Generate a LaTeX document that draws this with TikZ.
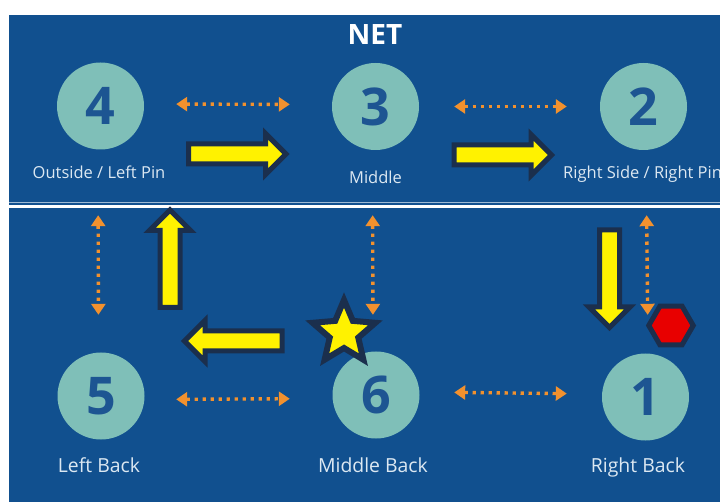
\documentclass[tikz,border=0pt]{standalone}
\usepackage{fontspec}
\setmainfont{Open Sans}
\usetikzlibrary{shapes.geometric,shapes.arrows}
\usetikzlibrary{arrows.meta}

\definecolor{court}{HTML}{11508F}
\definecolor{spotcol}{HTML}{7FBFB8}
\definecolor{navy}{HTML}{1B2F4D}
\definecolor{numcol}{HTML}{1D5592}
\definecolor{lblcol}{HTML}{DCE8F2}
\definecolor{orng}{HTML}{F2912E}
\definecolor{stopred}{HTML}{E80000}

\tikzset{
  spot/.style={circle, fill=spotcol, minimum size=87pt, inner sep=0pt, text=numcol,
    font=\bfseries\fontsize{52}{52}\selectfont},
  lbl/.style={anchor=base, text=lblcol, inner sep=0pt, font=\fontsize{#1}{#1}\selectfont},
  swap/.style={orng, line width=3.4pt, dash pattern=on 3.4pt off 4.6pt,
    {Triangle[width=14pt,length=11pt]}-{Triangle[width=14pt,length=11pt]}},
  rotate arrow/.style={single arrow, draw=navy, fill=yellow, line width=5pt, anchor=tail,
    inner xsep=0pt, inner ysep=7.5pt, single arrow head extend=10.5pt, minimum height=97.5pt},
}

\begin{document}
\begin{tikzpicture}[x=1pt, y=-1pt]
\useasboundingbox[fill=white] (0,0) rectangle (720,502);
\fill[court] (9,15) rectangle (720,502);
\draw[lblcol!70!court, line width=1pt] (9,203) -- (720,203);
\draw[white, line width=3pt] (9,206.5) -- (720,206.5); % the net line
\node (net) [text=white, font=\bfseries\fontsize{28}{28}\selectfont] at (375,35) {NET};
\foreach \n/\x/\y in {4/100.5/106, 3/375.5/106.5, 2/643.5/106.5, 5/101/396, 6/376/395, 1/645.5/397} % edit here for the spots
\node (c\n) [spot] at (\x,\y) {\n};
\node (l4) [lbl=16.5] at (99,178.3) {Outside / Left Pin};
\node (l3) [lbl=16.5] at (375.5,183.3) {Middle};
\node (l2) [lbl=16.5, anchor=base west] at (563,178.3) {Right Side / Right Pin};
\node (l5) [lbl=19.4] at (99,472) {Left Back};
\node (l6) [lbl=19.4] at (373,472) {Middle Back};
\node (l1) [lbl=19.4] at (638,472) {Right Back};
\foreach \a/\b/\d/\s/\t in {c4/c3/2/32/42, c3/c2/0/35/33, c5/c6/-3.5/31.5/42.5, c6/c1/3/34.5/35} % edit here for the side swaps
\draw[swap, shorten <=\s pt, shorten >=\t pt] ([yshift=\d pt]\a.east) -- ([yshift=\d pt]\b.west);
\foreach \a/\b/\d/\s/\t in {c4/c5/-2.5/65.5/37.5, c3/c6/-3/65/36.5, c2/c1/2.5/65/38.5} % edit here for the front/back swaps
\draw[swap, shorten <=\s pt, shorten >=\t pt] ([xshift=\d pt]\a.south) -- ([xshift=\d pt]\b.north);
%rotation
\node (r1) [rotate arrow] at (186,154) {};
\node (r2) [rotate arrow] at (451.5,155) {};
\node (r3) [rotate arrow, rotate=-90] at (609.5,227.5) {};
\node (r4) [rotate arrow, rotate=180] at (284.5,341) {};
\node (r5) [rotate arrow, rotate=90] at (170,310) {};
\node (server) [star, star points=5, star point ratio=2.2, minimum size=66pt, inner sep=0pt,
  fill=yellow, draw=navy, line width=6pt] at (344,333) {};
\node (stop) [regular polygon, regular polygon sides=6, minimum size=44.5pt, inner sep=0pt,
  fill=stopred, draw=navy, line width=5pt] at (671,325.5) {};
\end{tikzpicture}
\end{document}
